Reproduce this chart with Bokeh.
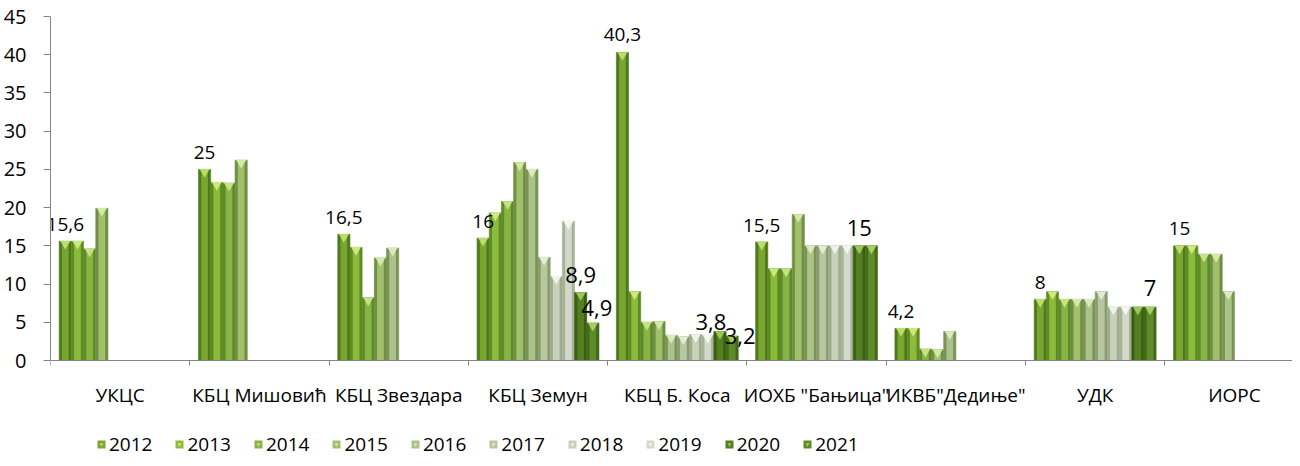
import numpy as np
from bokeh.plotting import figure
from bokeh.models import (ColumnDataSource, Range1d, FixedTicker, Legend, LegendItem)
from bokeh.embed import file_html
from bokeh.resources import INLINE

# ---------------- data ----------------
categories = ["УКЦС", "КБЦ Мишовић", "КБЦ Звездара", "КБЦ Земун", "КБЦ Б. Коса",
              "ИОХБ \"Бањица\"", "ИКВБ\"Дедиње\"", "УДК", "ИОРС"]
years = ["2012", "2013", "2014", "2015", "2016", "2017", "2018", "2019", "2020", "2021"]

v2012 = [15.6, 25.0, 16.5, 16.0, 40.3, 15.5, 4.2, 8.0, 15.0]
v2013 = [15.6, 23.3, 14.8, 19.3, 9.0, 12.0, 4.2, 9.0, 15.0]
v2014 = [14.6, 23.2, 8.2, 20.8, 5.0, 12.0, 1.5, 8.0, 13.9]
v2015 = [19.9, 26.2, 13.4, 25.9, 5.1, 19.1, 1.4, 8.0, 13.9]
v2016 = [None, None, 14.7, 25.0, 3.3, 15.0, 3.8, 8.0, 9.0]
v2017 = [None, None, None, 13.5, 3.1, 15.0, None, 9.0, None]
v2018 = [None, None, None, 11.0, 3.4, 15.0, None, 7.0, None]
v2019 = [None, None, None, 18.2, 3.3, 15.0, None, 7.0, None]
v2020 = [None, None, None, 8.9, 3.8, 15.0, None, 7.0, None]
v2021 = [None, None, None, 4.9, 3.2, 15.0, None, 7.0, None]
series = [v2012, v2013, v2014, v2015, v2016, v2017, v2018, v2019, v2020, v2021]

# which bars carry a data label
label_cats = ["УКЦС", "КБЦ Мишовић", "КБЦ Звездара", "КБЦ Земун", "КБЦ Земун", "КБЦ Земун",
              "КБЦ Б. Коса", "КБЦ Б. Коса", "КБЦ Б. Коса", "ИОХБ \"Бањица\"", "ИОХБ \"Бањица\"",
              "ИКВБ\"Дедиње\"", "УДК", "УДК", "ИОРС"]
label_years = ["2012", "2012", "2012", "2012", "2020", "2021",
               "2012", "2020", "2021", "2012", "2020",
               "2012", "2012", "2021", "2012"]

# ---------------- style ----------------
FONT = "Open Sans"
CAT_PX = 139.4
BW = 12.2 / CAT_PX
PX_PER_UNIT = 344 / 45.0
BOTTOM_PX = 98

edge_colors = ["#4E7A1C", "#5E8C22", "#5E8A2A", "#6F8F45", "#7A9456", "#8A9C70",
               "#A0AC90", "#A8B29A", "#3B5F12", "#436A18"]
main_colors = ["#7AA530", "#8CBA3C", "#88B345", "#A2C06C", "#ABC28A", "#B8C7A0",
               "#C8D2BA", "#D2D9C8", "#557E22", "#5E8A28"]
hl_colors = ["#BCDC6C", "#CCE87E", "#C6E284", "#D4E8A8", "#DCE9C0", "#E4ECD4",
             "#F0F3EA", "#F4F6F0", "#9DC65A", "#A6CE62"]

label_big = [False, False, False, False, True, True,
             False, True, True, False, True,
             False, False, True, False]
label_dx = [0, 0, 0, 0, 0, 4, 0, -9, 8, 0, 0, 0, 0, 0, 0]
label_gap = [17, 17, 17, 17, 17, 15, 18, 9, 0, 17, 18, 17, 17, 19, 17]

p = figure(width=1292, height=458,
           x_range=Range1d(0, 1243 / CAT_PX),
           y_range=Range1d(-BOTTOM_PX / PX_PER_UNIT, 45),
           output_backend="svg", toolbar_location=None,
           min_border_left=49, min_border_right=0, min_border_top=16, min_border_bottom=0)
p.outline_line_color = None
p.xgrid.grid_line_color = None
p.ygrid.grid_line_color = None
p.background_fill_color = "white"
p.border_fill_color = "white"

legend_renderers = []
for i, (yr, vals) in enumerate(zip(years, series)):
    xs, tops = [], []
    for c, v in enumerate(vals):
        if v is not None:
            xs.append(c + 0.5 + (i - 4.5) * BW)
            tops.append(v)
    src = ColumnDataSource(dict(x=xs, top=tops,
                                tri=[t - 2.6 / PX_PER_UNIT for t in tops]))
    p.vbar(x="x", top="top", bottom=0, width=BW, source=src,
           fill_color=edge_colors[i], line_color=edge_colors[i], line_width=0.6)
    inner = p.vbar(x="x", top="top", bottom=0, width=BW * 0.55, source=src,
                   fill_color=main_colors[i], line_color=None)
    tri = p.scatter(x="x", y="tri", source=src, marker="inverted_triangle", size=10,
                    fill_color=hl_colors[i], line_color=None)
    legend_renderers.append([inner, tri])

# data labels
lx, ly, lt, lsize, ldx, ldy = [], [], [], [], [], []
for k, (cat, yr) in enumerate(zip(label_cats, label_years)):
    c = categories.index(cat)
    i = years.index(yr)
    v = series[i][c]
    lx.append(c + 0.5 + (i - 4.5) * BW)
    ly.append(v)
    lt.append(("%g" % v).replace(".", ","))
    lsize.append("22px" if label_big[k] else "19px")
    ldx.append(label_dx[k])
    ldy.append(-label_gap[k])
lsrc = ColumnDataSource(dict(x=lx, y=ly, text=lt, size=lsize, dx=ldx, dy=ldy))
p.text(x="x", y="y", text="text", source=lsrc, text_font_size="size",
       x_offset="dx", y_offset="dy", text_align="center", text_baseline="alphabetic",
       text_color="#000000", text_font={"value": FONT})

# axes
ax = p.xaxis[0]
ax.fixed_location = 0
ax.ticker = FixedTicker(ticks=[c + 0.5 for c in range(len(categories))],
                        minor_ticks=list(range(len(categories) + 1)))
ax.major_label_overrides = {c + 0.5: name for c, name in enumerate(categories)}
ax.major_tick_out = 0
ax.major_tick_in = 0
ax.minor_tick_out = 5
ax.minor_tick_in = 0
ax.minor_tick_line_color = "#868686"
ax.axis_line_color = "#868686"
ax.major_label_standoff = 16
ax.major_label_text_font = FONT
ax.major_label_text_font_size = "19px"
ax.major_label_text_color = "#000000"

ay = p.yaxis[0]
ay.bounds = (0, 45)
ay.ticker = FixedTicker(ticks=list(range(0, 46, 5)))
ay.major_tick_out = 7
ay.major_tick_in = 0
ay.minor_tick_line_color = None
ay.major_tick_line_color = "#868686"
ay.axis_line_color = "#868686"
ay.major_label_standoff = 17
ay.major_label_text_font = FONT
ay.major_label_text_font_size = "20px"
ay.major_label_text_color = "#000000"

legend = Legend(items=[LegendItem(label=yr, renderers=legend_renderers[i])
                       for i, yr in enumerate(years)],
                orientation="horizontal", location=(46, 1),
                glyph_width=10, glyph_height=10, label_standoff=3, spacing=22,
                padding=0, margin=0, border_line_color=None, background_fill_alpha=0,
                label_text_font=FONT, label_text_font_size="19px",
                label_text_color="#000000")
p.add_layout(legend)

open("out.html", "w").write(file_html(p, INLINE))
